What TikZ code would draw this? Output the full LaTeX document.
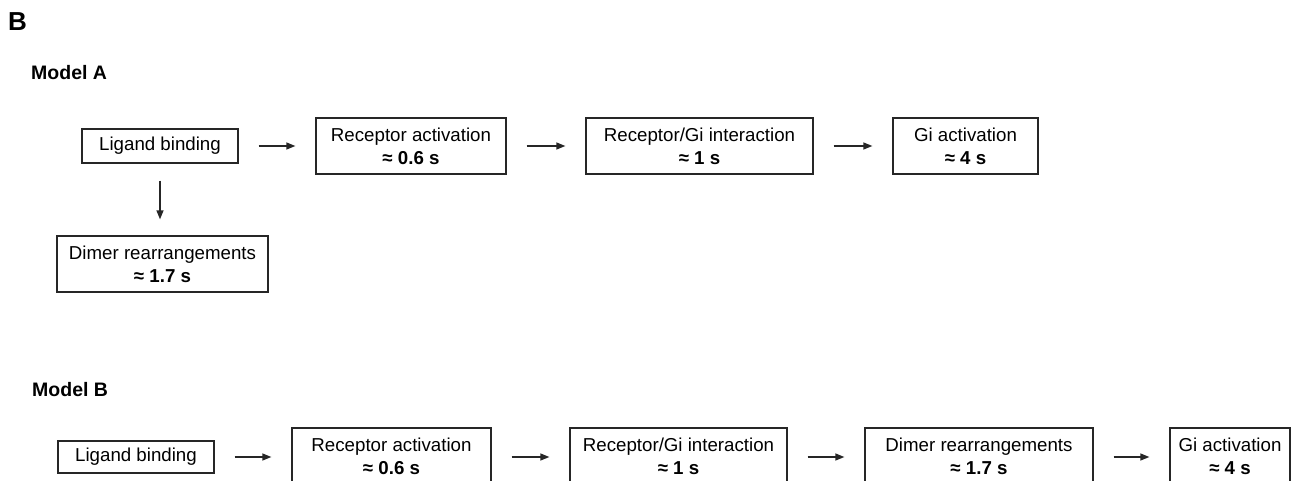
\documentclass[tikz,border=0pt]{standalone}
\usepackage{fontspec}
\setmainfont{Liberation Sans}
\usetikzlibrary{arrows.meta}
\tikzset{
  x=1pt, y=-1pt,
  boxnode/.style={draw=black!85, line width=1.3pt, rectangle, inner sep=0pt, align=center,
    font=\fontsize{18.7}{23}\selectfont},
  flowarrow/.style={draw=black!85, line width=1.3pt, -{Triangle[length=9pt,width=7pt]}, shorten <=20pt, shorten >=20pt},
  panellabel/.style={font=\fontsize{26}{26}\selectfont\bfseries, anchor=base west, inner sep=0pt},
  modellabel/.style={font=\fontsize{19.5}{20}\selectfont\bfseries, anchor=base west, inner sep=0pt}
}
\begin{document}
\begin{tikzpicture}
\useasboundingbox (0,0) rectangle (1311,481);
\clip (0,0) rectangle (1311,481);
\fill[white] (0,0) rectangle (1311,481);

\node[panellabel] (lblB) at (8,31) {B};
\node[modellabel] (mA) at (31,80) {Model A};
\node[modellabel] (mB) at (32,396) {Model B};

% Model A
\node[boxnode, minimum width=156pt, minimum height=34pt] (lbA) at (160,146) {Ligand binding};
\node[boxnode, minimum width=190pt, minimum height=56pt] (raA) at (411,146) {Receptor activation\\\textbf{≈ 0.6 s}};
\node[boxnode, minimum width=227pt, minimum height=56pt] (rgA) at (699.5,146) {Receptor/Gi interaction\\\textbf{≈ 1 s}};
\node[boxnode, minimum width=145pt, minimum height=56pt] (giA) at (965.5,146) {Gi activation\\\textbf{≈ 4 s}};
\node[boxnode, minimum width=211pt, minimum height=56pt] (dmA) at (162.5,264) {Dimer rearrangements\\\textbf{≈ 1.7 s}};

\draw[flowarrow] (lbA) -- (raA);
\draw[flowarrow] (raA) -- (rgA);
\draw[flowarrow] (rgA) -- (giA);
\draw[flowarrow, shorten <=17pt, shorten >=16pt] (lbA.south) -- (lbA.south |- dmA.north);

% Model B
\node[boxnode, minimum width=156pt, minimum height=32pt] (lbB) at (136,457) {Ligand binding};
\node[boxnode, minimum width=199pt, minimum height=56pt] (raB) at (391.5,456) {Receptor activation\\\textbf{≈ 0.6 s}};
\node[boxnode, minimum width=217pt, minimum height=56pt] (rgB) at (678.5,456) {Receptor/Gi interaction\\\textbf{≈ 1 s}};
\node[boxnode, minimum width=228pt, minimum height=56pt] (dmB) at (979,456) {Dimer rearrangements\\\textbf{≈ 1.7 s}};
\node[boxnode, minimum width=120pt, minimum height=56pt] (giB) at (1230,456) {Gi activation\\\textbf{≈ 4 s}};

\draw[flowarrow] (lbB.east) -- (lbB.east -| raB.west);
\draw[flowarrow] (raB.east |- lbB.east) -- (lbB.east -| rgB.west);
\draw[flowarrow] (rgB.east |- lbB.east) -- (lbB.east -| dmB.west);
\draw[flowarrow] (dmB.east |- lbB.east) -- (lbB.east -| giB.west);
\end{tikzpicture}
\end{document}
